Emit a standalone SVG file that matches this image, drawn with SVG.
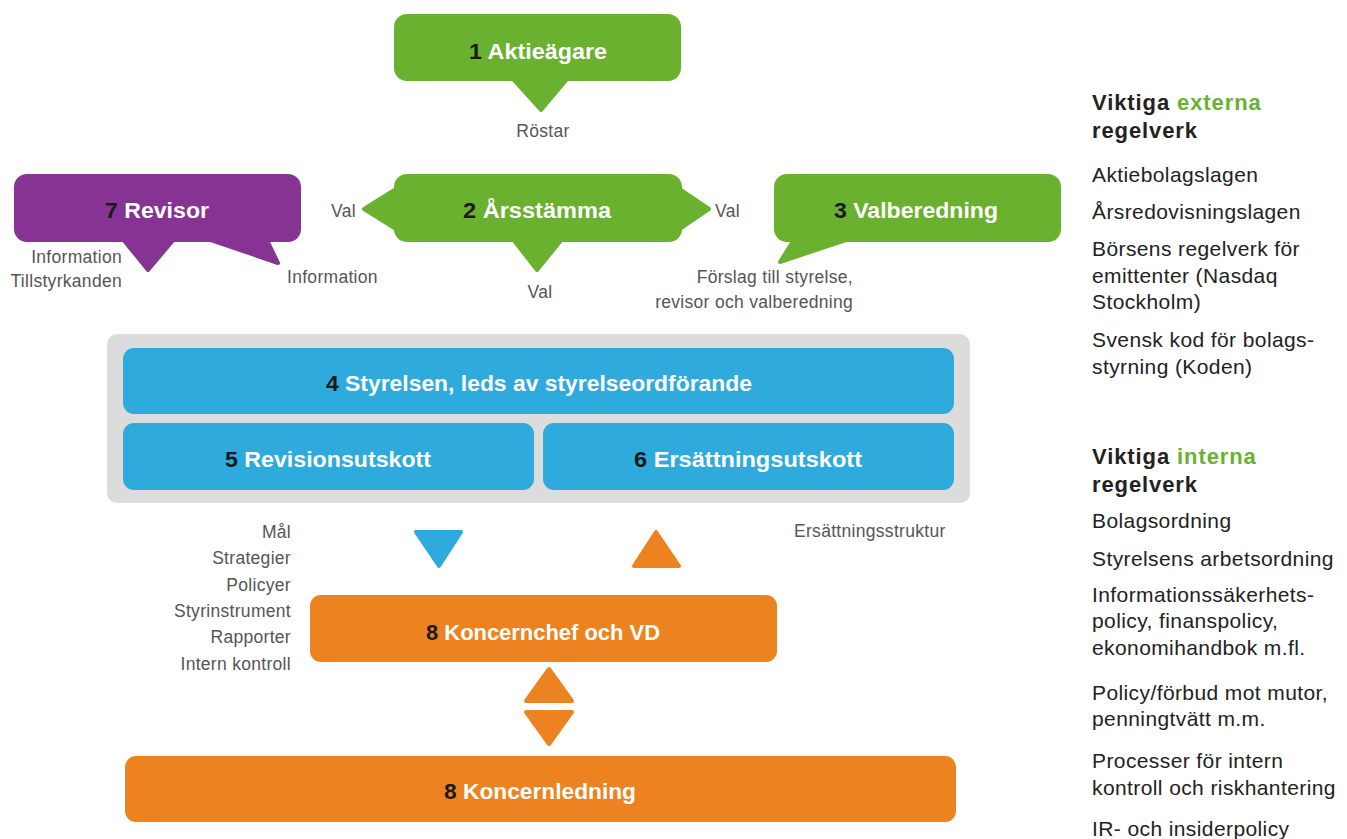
<svg xmlns="http://www.w3.org/2000/svg" width="1347" height="839" viewBox="0 0 1347 839">
<style>
.t{font-family:"Liberation Sans",Arial,sans-serif;font-weight:bold;font-size:22px;fill:#fff;text-anchor:middle}
.n{fill:#1a1a1a}
.lbl{font-family:"Liberation Sans",Arial,sans-serif;font-size:17.5px;letter-spacing:0.3px;fill:#555}
.r{text-anchor:end}
.m{text-anchor:middle}
.side{font-family:"Liberation Sans",Arial,sans-serif;font-size:21px;letter-spacing:0.4px;fill:#222}
.h{font-weight:bold;font-size:22px;letter-spacing:0.9px}
.g{fill:#6ab130}
.green{fill:#6ab130;stroke:#6ab130;stroke-width:4;stroke-linejoin:round}
.purple{fill:#863393;stroke:#863393;stroke-width:4;stroke-linejoin:round}
.blue{fill:#2eaadc;stroke:#2eaadc;stroke-width:4;stroke-linejoin:round}
.orange{fill:#ec8320;stroke:#ec8320;stroke-width:4;stroke-linejoin:round}
</style>
<rect width="1347" height="839" fill="#fff"/>

<g id="node1">
<rect x="394" y="14" width="287" height="67" rx="13" fill="#6ab130"/>
<polygon class="green" points="512,78 568,78 541,110"/>
<text class="t" x="538" y="59" textLength="138" lengthAdjust="spacingAndGlyphs"><tspan class="n">1</tspan> Aktieägare</text>
</g>

<g id="node2">
<rect x="394" y="174" width="288" height="68" rx="13" fill="#6ab130"/>
<polygon class="green" points="404,184 364,209 404,234"/>
<polygon class="green" points="672,184 709,209 672,234"/>
<polygon class="green" points="512,238 563,238 537,270"/>
<text class="t" x="537" y="218" textLength="148" lengthAdjust="spacingAndGlyphs"><tspan class="n">2</tspan> Årsstämma</text>
</g>

<g id="node3">
<rect x="774" y="174" width="287" height="68" rx="13" fill="#6ab130"/>
<polygon class="green" points="795,238 852,238 780,262"/>
<text class="t" x="916" y="218" textLength="164" lengthAdjust="spacingAndGlyphs"><tspan class="n">3</tspan> Valberedning</text>
</g>

<g id="node7">
<rect x="14" y="174" width="287" height="68" rx="13" fill="#863393"/>
<polygon class="purple" points="122,238 175,238 148,270"/>
<polygon class="purple" points="205,238 266,238 278,263"/>
<text class="t" x="157" y="218" textLength="104" lengthAdjust="spacingAndGlyphs"><tspan class="n">7</tspan> Revisor</text>
</g>

<g id="board">
<rect x="107" y="334" width="863" height="169" rx="10" fill="#dcdcdc"/>
</g>
<g id="node4">
<rect x="123" y="348" width="831" height="66" rx="11" fill="#2eaadc"/>
<text class="t" x="539" y="391" textLength="426" lengthAdjust="spacingAndGlyphs"><tspan class="n">4</tspan> Styrelsen, leds av styrelseordförande</text>
</g>
<g id="node5">
<rect x="123" y="423" width="411" height="67" rx="11" fill="#2eaadc"/>
<text class="t" x="328" y="467" textLength="206" lengthAdjust="spacingAndGlyphs"><tspan class="n">5</tspan> Revisionsutskott</text>
</g>
<g id="node6">
<rect x="543" y="423" width="411" height="67" rx="11" fill="#2eaadc"/>
<text class="t" x="748" y="467" textLength="228" lengthAdjust="spacingAndGlyphs"><tspan class="n">6</tspan> Ersättningsutskott</text>
</g>

<g id="node8a">
<rect x="310" y="595" width="467" height="67" rx="11" fill="#ec8320"/>
<text class="t" x="543" y="640" textLength="234" lengthAdjust="spacingAndGlyphs"><tspan class="n">8</tspan> Koncernchef och VD</text>
</g>
<g id="node8b">
<rect x="125" y="756" width="831" height="66" rx="11" fill="#ec8320"/>
<text class="t" x="540" y="799" textLength="192" lengthAdjust="spacingAndGlyphs"><tspan class="n">8</tspan> Koncernledning</text>
</g>

<g id="connectors">
<polygon class="blue" points="416,532 461,532 439,566"/>
<polygon class="orange" points="634,566 679,566 656,532"/>
<polygon class="orange" points="526,701 572,701 549,669"/>
<polygon class="orange" points="526,712 572,712 549,744"/>
</g>

<g id="labels">
<text class="lbl m" x="543" y="137">Röstar</text>
<text class="lbl" x="331" y="217">Val</text>
<text class="lbl" x="715" y="217">Val</text>
<text class="lbl m" x="540" y="298">Val</text>
<text class="lbl r" x="122" y="263">Information</text>
<text class="lbl r" x="122" y="287">Tillstyrkanden</text>
<text class="lbl" x="287" y="283">Information</text>
<text class="lbl r" x="853" y="283">Förslag till styrelse,</text>
<text class="lbl r" x="853" y="308">revisor och valberedning</text>
<text class="lbl r" x="291" y="538">Mål</text>
<text class="lbl r" x="291" y="564">Strategier</text>
<text class="lbl r" x="291" y="591">Policyer</text>
<text class="lbl r" x="291" y="617">Styrinstrument</text>
<text class="lbl r" x="291" y="643">Rapporter</text>
<text class="lbl r" x="291" y="670">Intern kontroll</text>
<text class="lbl" x="794" y="537">Ersättningsstruktur</text>
</g>

<g id="external">
<text class="side h" x="1092" y="110">Viktiga <tspan class="g">externa</tspan></text>
<text class="side h" x="1092" y="138">regelverk</text>
<text class="side" x="1092" y="182">Aktiebolagslagen</text>
<text class="side" x="1092" y="219">Årsredovisningslagen</text>
<text class="side" x="1092" y="256">Börsens regelverk för</text>
<text class="side" x="1092" y="283">emittenter (Nasdaq</text>
<text class="side" x="1092" y="309">Stockholm)</text>
<text class="side" x="1092" y="347">Svensk kod för bolags-</text>
<text class="side" x="1092" y="374">styrning (Koden)</text>
</g>

<g id="internal">
<text class="side h" x="1092" y="464">Viktiga <tspan class="g">interna</tspan></text>
<text class="side h" x="1092" y="492">regelverk</text>
<text class="side" x="1092" y="528">Bolagsordning</text>
<text class="side" x="1092" y="566">Styrelsens arbetsordning</text>
<text class="side" x="1092" y="602">Informationssäkerhets-</text>
<text class="side" x="1092" y="628">policy, finanspolicy,</text>
<text class="side" x="1092" y="655">ekonomihandbok m.fl.</text>
<text class="side" x="1092" y="700">Policy/förbud mot mutor,</text>
<text class="side" x="1092" y="726">penningtvätt m.m.</text>
<text class="side" x="1092" y="768">Processer för intern</text>
<text class="side" x="1092" y="795">kontroll och riskhantering</text>
<text class="side" x="1092" y="836">IR- och insiderpolicy</text>
</g>
</svg>
